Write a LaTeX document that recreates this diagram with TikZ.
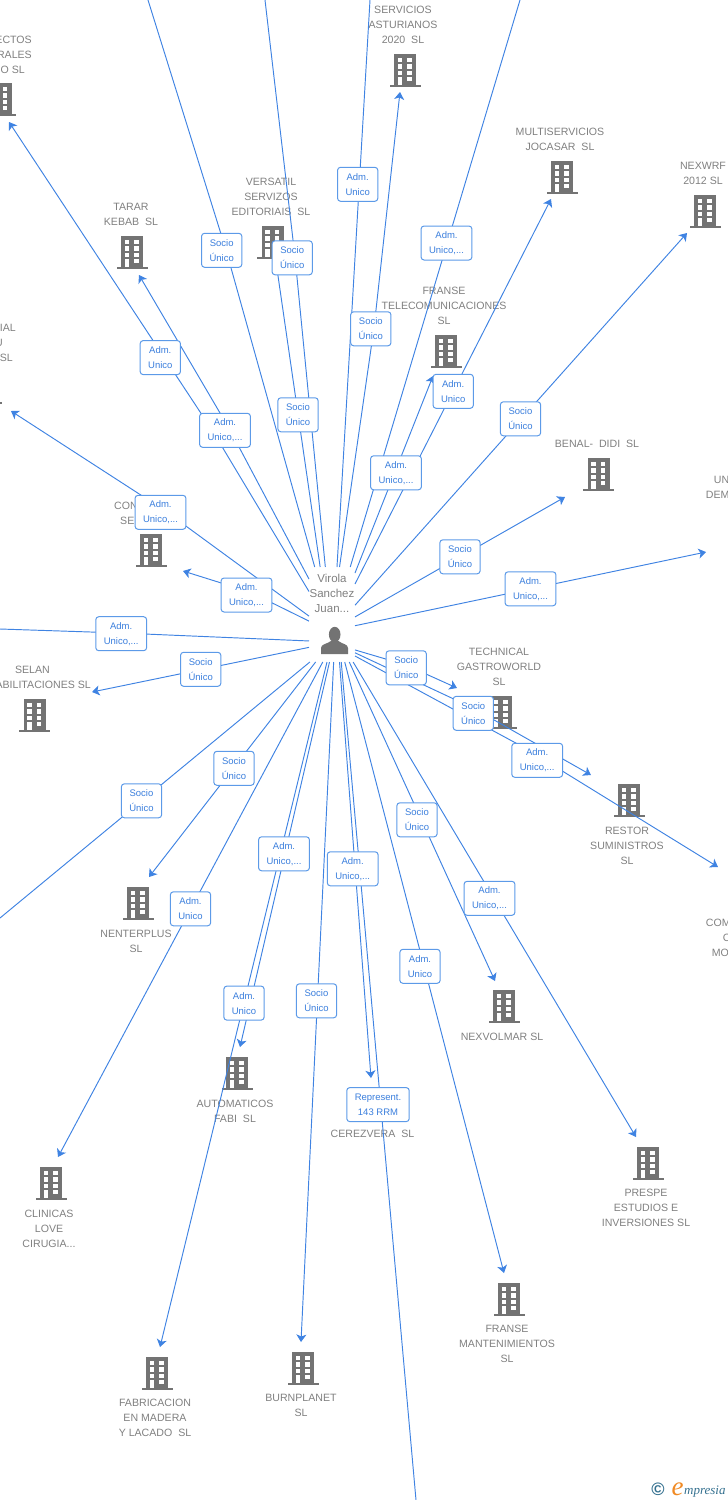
\documentclass[tikz,border=0pt]{standalone}
\usepackage{fontspec}
\setmainfont{Liberation Sans}
\newfontfamily\logofont{Liberation Serif}
\usepackage{xcolor}
\usepackage{tikz}
\usetikzlibrary{arrows.meta}

\definecolor{linkblue}{HTML}{3F83E2}
\definecolor{boxblue}{HTML}{5C9AE8}
\definecolor{labelblue}{HTML}{3B7FDD}
\definecolor{namegray}{HTML}{808080}
\definecolor{icongray}{HTML}{737373}
\definecolor{logoteal}{HTML}{34708F}
\definecolor{logoorange}{HTML}{F08A24}

\tikzset{
  link/.style={draw=linkblue, line width=0.95pt},
  tiplink/.style={link, -{Stealth[length=7.5pt,width=10pt,inset=2pt]}},
  relbox/.style={draw=boxblue, line width=1pt, rounded corners=3pt, fill=white, text=labelblue,
    align=center, inner xsep=8pt, inner ysep=0pt, minimum height=34pt, outer sep=0pt,
    font=\fontsize{9.5}{15}\selectfont},
  firm/.style={text=namegray, align=center, inner sep=0pt, yshift=-0.7pt, font=\fontsize{10.6}{15}\selectfont},
  hub/.style={rectangle, minimum width=46pt, minimum height=95pt, inner sep=0pt, outer sep=0pt},
  building/.pic={
    \fill[icongray] (-11,-33) rectangle (11,-1);
    \fill[icongray] (-15.5,-2.5) rectangle (15.5,0);
    \foreach \wy in {-29.2,-22.6,-16} {
      \fill[white] (-7.3,\wy) rectangle (-3,\wy+4.4);
      \fill[white] (2.3,\wy) rectangle (6.7,\wy+4.4);
    }
    \fill[white] (-7.3,-10) rectangle (-3,-2.5);
    \fill[white] (2.3,-10) rectangle (6.7,-5.6);
  },
}

\begin{document}
\begin{tikzpicture}[x=1pt,y=-1pt]
       \path[use as bounding box,clip] (0,0) rectangle (728,1500);

       \pic at (0.5,116) {building};
       \pic at (405,87) {building};
       \pic at (562,194) {building};
       \pic at (705,228) {building};
       \pic at (132,269) {building};
       \pic at (272.5,259) {building};
       \pic at (446,368) {building};
       \pic at (-14,404) {building};
       \pic at (598.5,491) {building};
       \pic at (151,567) {building};
       \pic at (34.5,732) {building};
       \pic at (501,729) {building};
       \pic at (629,817) {building};
       \pic at (138,920) {building};
       \pic at (504,1023) {building};
       \pic at (237,1090) {building};
       \pic at (648,1180) {building};
       \pic at (51,1200) {building};
       \pic at (509,1316) {building};
       \pic at (157,1390) {building};
       \pic at (303,1385) {building};

       \node[firm, anchor=east, align=right] (proyectos) at (32,54) {ECTOS\\RALES\\O SL\kern7pt};
       \node[firm] (servicios) at (403,24) {SERVICIOS\\ASTURIANOS\\2020~~SL};
       \node[firm] (multi) at (560,138.5) {MULTISERVICIOS\\JOCASAR~~SL};
       \node[firm] (nexwrf) at (703,172.5) {NEXWRF\\2012 SL};
       \node[firm] (tarar) at (131,213.5) {TARAR\\KEBAB~~SL};
       \node[firm] (versatil) at (271,196) {VERSATIL\\SERVIZOS\\EDITORIAIS~~SL};
       \node[firm] (franse) at (444,305) {FRANSE\\TELECOMUNICACIONES\\SL};
       \node[firm, anchor=east, align=right] (ial) at (16,342) {IAL\\U\kern13pt\\SL\kern3pt};
       \node[firm] (benal) at (597,443) {BENAL-~~DIDI~~SL};
       \node[firm, anchor=west, align=left] (dem) at (705.7,486.5) {\hspace{8pt}UN\\DEM};
       \node[firm, anchor=west, align=left] (con) at (114,512.5) {CON\\\hspace{6pt}SE};
       \node[firm, anchor=east, align=right] (selan) at (91,676.5) {SELAN\kern41pt\\ABILITACIONES SL};
       \node[firm] (technical) at (499,666) {TECHNICAL\\GASTROWORLD\\SL};
       \node[firm] (restor) at (627,845) {RESTOR\\SUMINISTROS\\SL};
       \node[firm, anchor=west, align=left] (com) at (705.7,937.5) {COM\\\hspace{17pt}C\\\hspace{6pt}MO};
       \node[firm] (nenterplus) at (136,940.5) {NENTERPLUS\\SL};
       \node[firm] (nexvolmar) at (502,1036) {NEXVOLMAR SL};
       \node[firm] (automaticos) at (235,1110.5) {AUTOMATICOS\\FABI~~SL};
       \node[firm] (cerezvera) at (372.5,1133) {CEREZVERA~~SL};
       \node[firm] (prespe) at (646,1207) {PRESPE\\ESTUDIOS E\\INVERSIONES SL};
       \node[firm] (clinicas) at (49,1228) {CLINICAS\\LOVE\\CIRUGIA...};
       \node[firm] (fransem) at (507,1343) {FRANSE\\MANTENIMIENTOS\\SL};
       \node[firm] (fabricacion) at (155,1417) {FABRICACION\\EN MADERA\\Y LACADO~~SL};
       \node[firm] (burnplanet) at (301,1404.5) {BURNPLANET\\SL};

       \node[hub] (virola) at (332,614.5) {};
       \node[firm, font=\fontsize{11.5}{15}\selectfont] (virolaname) at (332,593) {Virola\\Sanchez\\Juan...};
       \fill[icongray] (334.7,634.5) ellipse (5.8 and 7.7);
       \fill[icongray] (321,654) -- (321,648) .. controls (321,644) and (327,644) .. (331,641) -- (338.5,641) .. controls (342,644) and (348,644) .. (348,648) -- (348,654) -- cycle;

       \coordinate (toptwo) at (148,0);
       \coordinate (topthree) at (265,0);
       \coordinate (topfour) at (370,0);
       \coordinate (topfive) at (520,0);
       \coordinate (leftone) at (0,629);
       \coordinate (lefttwo) at (0,918);
       \coordinate (bottomone) at (416,1500);
       \coordinate (tipproyectos) at (9,122);
       \coordinate (tipial) at (11,411);
       \coordinate (tiptarar) at (139,275);
       \coordinate (tipversatil) at (276,262);
       \coordinate (tipservicios) at (400,92);
       \coordinate (tipfranse) at (433,376);
       \coordinate (tipmulti) at (551,199);
       \coordinate (tipnexwrf) at (687,233);
       \coordinate (tipbenal) at (565,497);
       \coordinate (tipdem) at (706,552);
       \coordinate (tipcon) at (183,571);
       \coordinate (tipselan) at (92,692);
       \coordinate (tiptechnical) at (457,688);
       \coordinate (tiprestor) at (591,775);
       \coordinate (tipcom) at (718,867);
       \coordinate (tipnenterplus) at (149,877);
       \coordinate (tipprespe) at (636,1137);
       \coordinate (tipnexvolmar) at (495,981);
       \coordinate (tipfransem) at (504,1273);
       \coordinate (tipcerezvera) at (371,1078);
       \coordinate (tipburnplanet) at (301,1342);
       \coordinate (tipautomaticos) at (240,1047);
       \coordinate (tipfabricacion) at (160,1347);
       \coordinate (tipclinicas) at (58,1157);
       \coordinate (bendleft) at (121,633);
       \coordinate (bendcon) at (250,592);
       \coordinate (bendtech) at (406,665);
       \coordinate (bendrestor) at (473,708);
       \coordinate (bendcom) at (525,748);
       \coordinate (bendtoptwo) at (226,250);
       \coordinate (bendtopthree) at (295,257);
       \coordinate (bendproyectos) at (212,430);
       \coordinate (bendtarar) at (230,430);
       \coordinate (bendial) at (164,510);
       \coordinate (bendservicios) at (374,328);

       \draw[link] (virola.110.75) -- (bendtoptwo) -- (toptwo);
       \draw[link] (virola.98.4) -- (bendtopthree) -- (topthree);
       \draw[link] (virola.84) -- (topfour);
       \draw[link] (virola.69.25) -- (topfive);
       \draw[link] (virola.-131) -- (bendleft) -- (leftone);
       \draw[link] (virola.-115.8) -- (lefttwo);
       \draw[link] (virola.-79.3) -- (bottomone);
       \draw[tiplink] (virola.135.6) -- (bendproyectos) -- (tipproyectos);
       \draw[tiplink] (virola.-176.3) -- (bendial) -- (tipial);
       \draw[tiplink] (virola.123.7) -- (bendtarar) -- (tiptarar);
       \draw[tiplink] (virola.104.2) -- (tipversatil);
       \draw[tiplink] (virola.81.6) -- (bendservicios) -- (tipservicios);
       \draw[tiplink] (virola.61) -- (tipfranse);
       \draw[tiplink] (virola.53.9) -- (tipmulti);
       \draw[tiplink] (virola.22.4) -- (tipnexwrf);
       \draw[tiplink] (virola.-6.2) -- (tipbenal);
       \draw[tiplink] (virola.-26.6) -- (tipdem);
       \draw[tiplink] (virola.-164.2) -- (bendcon) -- (tipcon);
       \draw[tiplink] (virola.-125.3) -- (tipselan);
       \draw[tiplink] (virola.-57.1) -- (bendtech) -- (tiptechnical);
       \draw[tiplink] (virola.-59.8) -- (bendrestor) -- (tiprestor);
       \draw[tiplink] (virola.-61.6) -- (bendcom) -- (tipcom);
       \draw[tiplink] (virola.-109.7) -- (tipnenterplus);
       \draw[tiplink] (virola.-66.1) -- (tipprespe);
       \draw[tiplink] (virola.-70.3) -- (tipnexvolmar);
       \draw[tiplink] (virola.-75.8) -- (tipfransem);
       \draw[tiplink] (virola.-81.6) -- (tipcerezvera);
       \draw[tiplink] (virola.-88.8) -- (tipburnplanet);
       \draw[tiplink] (virola.-93.6) -- (tipautomaticos);
       \draw[tiplink] (virola.-96) -- (tipfabricacion);
       \draw[tiplink] (virola.-101.9) -- (tipclinicas);

       \node[relbox] (rela) at (221.7,250.3) {Socio\\Único};
       \node[relbox] (relb) at (292.2,257.8) {Socio\\Único};
       \node[relbox] (relc) at (357.7,184.3) {Adm.\\Unico};
       \node[relbox] (reld) at (446.5,243) {Adm.\\Unico,...};
       \node[relbox] (rele) at (370.8,328.8) {Socio\\Único};
       \node[relbox] (relf) at (453.2,391.3) {Adm.\\Unico};
       \node[relbox] (relg) at (520.5,418.8) {Socio\\Único};
       \node[relbox] (relh) at (396,472.8) {Adm.\\Unico,...};
       \node[relbox] (reli) at (298,414.8) {Socio\\Único};
       \node[relbox] (relj) at (160.3,357.6) {Adm.\\Unico};
       \node[relbox] (relk) at (225,430.3) {Adm.\\Unico,...};
       \node[relbox] (rell) at (160.5,512.3) {Adm.\\Unico,...};
       \node[relbox] (relm) at (246.5,595) {Adm.\\Unico,...};
       \node[relbox] (reln) at (121.2,633.7) {Adm.\\Unico,...};
       \node[relbox] (relo) at (200.7,669.3) {Socio\\Único};
       \node[relbox] (relp) at (460,556.8) {Socio\\Único};
       \node[relbox] (relq) at (530.5,588.8) {Adm.\\Unico,...};
       \node[relbox] (relr) at (406.2,667.8) {Socio\\Único};
       \node[relbox] (rels) at (473.3,713.3) {Socio\\Único};
       \node[relbox] (relt) at (537.2,760.3) {Adm.\\Unico,...};
       \node[relbox] (relu) at (141.5,800.8) {Socio\\Único};
       \node[relbox] (relv) at (234,768.3) {Socio\\Único};
       \node[relbox] (relw) at (284,853.8) {Adm.\\Unico,...};
       \node[relbox] (relx) at (352.7,868.8) {Adm.\\Unico,...};
       \node[relbox] (rely) at (417,819.8) {Socio\\Único};
       \node[relbox] (relz) at (489.5,898.3) {Adm.\\Unico,...};
       \node[relbox] (relaa) at (190.5,908.8) {Adm.\\Unico};
       \node[relbox] (relab) at (244,1003.1) {Adm.\\Unico};
       \node[relbox] (relac) at (316.5,1000.8) {Socio\\Único};
       \node[relbox] (relad) at (420,966.3) {Adm.\\Unico};
       \node[relbox] (relae) at (378,1104.6) {Represent.\\143 RRM};

       \node[text=logoteal, inner sep=0pt, font=\bfseries\fontsize{18}{18}\selectfont] (logoc) at (658,1489) {©};
       \node[text=logoorange, inner sep=0pt, anchor=base, font=\logofont\itshape\fontsize{27}{27}\selectfont] (logoe) at (677.5,1495) {e};
       \node[text=logoteal, inner sep=0pt, anchor=base west, font=\logofont\itshape\fontsize{13}{13}\selectfont] (logoword) at (684,1494) {mpresia};
\end{tikzpicture}
\end{document}
